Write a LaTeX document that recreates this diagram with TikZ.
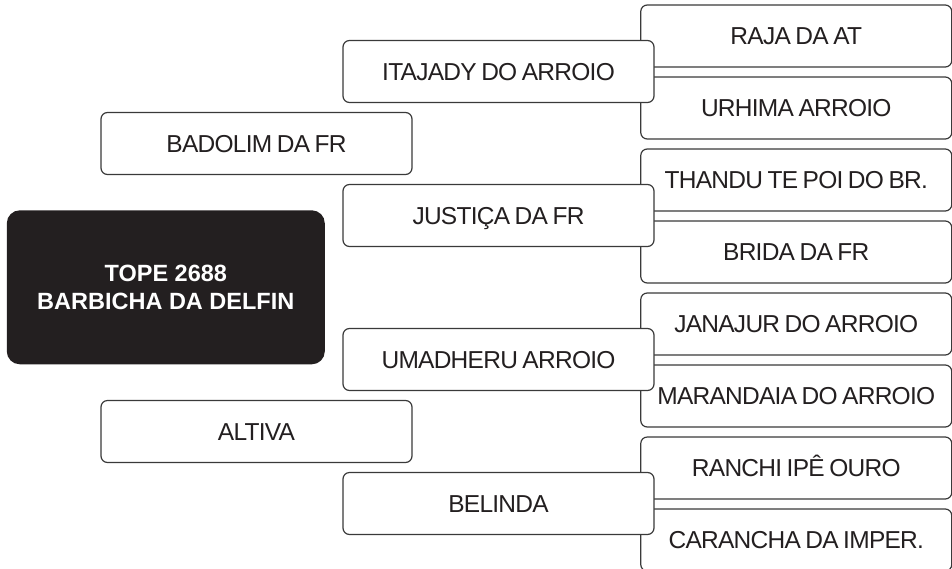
\documentclass[tikz,border=0pt]{standalone}
\usepackage{fontspec}
\setmainfont{Liberation Sans}
\newfontfamily\boxfont[LetterSpace=-3,WordSpace=0.75]{Liberation Sans}
\definecolor{inkblack}{HTML}{231F20}
\definecolor{edgegray}{HTML}{3A3A3A}
\begin{document}
\begin{tikzpicture}[x=1pt,y=-1pt,
  box/.style={draw=edgegray, line width=1.2pt, rounded corners=6.5pt, fill=white,
    minimum width=311pt, minimum height=62pt, inner sep=0pt, text=inkblack,
    font=\boxfont\fontsize{24.5}{28}\selectfont, text height=17.7pt, text depth=0pt},
  mainbox/.style={fill=inkblack, rounded corners=13pt, minimum width=318pt,
    minimum height=154pt, inner sep=0pt, text=white, align=center,
    font=\bfseries\fontsize{23.5}{28}\selectfont}
]
\useasboundingbox (0,0) rectangle (952,568);
% right column
\node[box] (r1) at (796.25,36)  {RAJA DA AT};
\node[box] (r2) at (796.25,108) {URHIMA ARROIO};
\node[box] (r3) at (796.25,180) {THANDU TE POI DO BR.};
\node[box] (r4) at (796.25,252) {BRIDA DA FR};
\node[box] (r5) at (796.25,324) {JANAJUR DO ARROIO};
\node[box] (r6) at (796.25,396) {MARANDAIA DO ARROIO};
\node[box] (r7) at (796.25,468) {RANCHI IPÊ OURO};
\node[box] (r8) at (796.25,540) {CARANCHA DA IMPER.};
% middle column
\node[box] (m1) at (498.5,71.5)  {ITAJADY DO ARROIO};
\node[box] (m2) at (498.5,215.5) {JUSTIÇA DA FR};
\node[box] (m3) at (498.5,359.5) {UMADHERU ARROIO};
\node[box] (m4) at (498.5,503.5) {BELINDA};
% left column
\node[box] (l1) at (256.5,143.5) {BADOLIM DA FR};
\node[box] (l2) at (256.5,431.5) {ALTIVA};
% main
\node[mainbox] (main) at (165.8,287.3) {TOPE 2688\\BARBICHA DA DELFIN};
\end{tikzpicture}
\end{document}
